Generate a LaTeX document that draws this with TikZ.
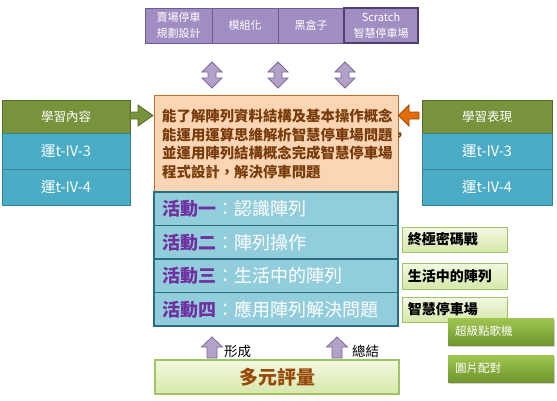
\documentclass[tikz,border=0pt]{standalone}
\usepackage{fontspec}
\setmainfont{Noto Sans CJK TC}
\usetikzlibrary{shadows}
\definecolor{topfill}{RGB}{161,141,193}
\definecolor{topline}{RGB}{110,90,146}
\definecolor{topline2}{RGB}{80,62,112}
\definecolor{dafill}{RGB}{179,162,199}
\definecolor{daline}{RGB}{128,100,162}
\definecolor{olive}{RGB}{119,147,60}
\definecolor{oliveline}{RGB}{84,106,40}
\definecolor{sideblue}{RGB}{75,172,198}
\definecolor{sideblueline}{RGB}{55,130,152}
\definecolor{peach}{RGB}{252,213,181}
\definecolor{peachline}{RGB}{196,110,45}
\definecolor{brown}{RGB}{120,60,10}
\definecolor{actfill}{RGB}{146,205,220}
\definecolor{actline}{RGB}{40,110,130}
\definecolor{actpurple}{RGB}{112,48,160}
\definecolor{orangearrow}{RGB}{228,108,10}
\definecolor{orangeline}{RGB}{152,72,7}
\definecolor{lgtop}{RGB}{242,248,226}
\definecolor{lgbot}{RGB}{214,232,170}
\definecolor{lgline}{RGB}{160,196,100}
\definecolor{dgtop}{RGB}{160,198,80}
\definecolor{dgbot}{RGB}{112,150,46}
\definecolor{evalbrown}{RGB}{152,72,7}
\tikzset{
  wh/.style 2 args={minimum width=#1, minimum height=#2, inner sep=0pt},
  topbox/.style={draw=topline, line width=0.8pt, fill=topfill, text=white, align=center,
    font=\fontsize{11}{15.5}\selectfont},
  sidehead/.style={draw=oliveline, line width=0.8pt, fill=olive, text=white,
    font=\fontsize{12.5}{15}\selectfont},
  sidecell/.style={draw=sideblueline, line width=0.8pt, fill=sideblue, text=white,
    font=\fontsize{14.5}{17}\selectfont},
  goalbox/.style={draw=peachline, line width=1pt, fill=peach},
  actbox/.style={draw=actline, line width=1.4pt, fill=actfill},
  acttext/.style={anchor=west, inner sep=0pt, text=white, font=\fontsize{18}{20}\selectfont},
  gamebox/.style={draw=lgline, line width=0.8pt, top color=lgtop, bottom color=lgbot},
  gametext/.style={anchor=west, inner sep=0pt, font=\bfseries\fontsize{14}{16}\selectfont},
  dgbox/.style={top color=dgtop, bottom color=dgbot, drop shadow={shadow xshift=1pt, shadow yshift=-1.5pt, opacity=0.35}},
  dgtext/.style={anchor=west, inner sep=0pt, text=white, font=\fontsize{11.5}{14}\selectfont},
  evalbox/.style={draw=lgline, line width=1.8pt, top color=lgtop, bottom color=lgbot},
  blockarrow/.style={fill=dafill, draw=daline, line width=0.8pt},
  dblarrow/.pic={\path[blockarrow] (0,-13)--(10,-3)--(4,-3)--(4,3)--(10,3)--(0,13)--(-10,3)--(-4,3)--(-4,-3)--(-10,-3)--cycle;},
  uparrow/.pic={\path[blockarrow] (0,-10.5)--(10.5,-0.5)--(5,-0.5)--(5,10.5)--(-5,10.5)--(-5,-0.5)--(-10.5,-0.5)--cycle;}
}
\begin{document}
\begin{tikzpicture}[x=1pt,y=-1pt]
\useasboundingbox[fill=white] (0,0) rectangle (557,400);

% top boxes
\node[topbox, wh={67pt}{35pt}] (t1) at (178.5,25.5) {賣場停車\\規劃設計};
\node[topbox, wh={66pt}{35pt}] (t2) at (245,25.5) {模組化};
\node[topbox, wh={66pt}{35pt}] (t3) at (311,25.5) {黑盒子};
\node[topbox, draw=topline2, line width=1.2pt, wh={74pt}{35pt}] (t4) at (381,25.5) {Scratch\\智慧停車場};

% double arrows
\pic at (212,75) {dblarrow};
\pic at (278,75) {dblarrow};
\pic at (345,75) {dblarrow};

% goal box
\node[goalbox, wh={244pt}{97pt}] (goal) at (276,143.5) {};
\node[anchor=north west, inner sep=0pt, align=left, text=brown,
  font=\bfseries\fontsize{14.4}{18.5}\selectfont] (goaltext) at (162,109)
  {能了解陣列資料結構及基本操作概念\\能運用運算思維解析智慧停車場問題，\\並運用陣列結構概念完成智慧停車場\\程式設計，解決停車問題};

% activities
\node[actbox, wh={244pt}{33.5pt}] (a1) at (276,208.75) {};
\node[actbox, wh={244pt}{33.5pt}] (a2) at (276,242.25) {};
\node[actbox, wh={244pt}{33.5pt}] (a3) at (276,275.75) {};
\node[actbox, wh={244pt}{33.5pt}] (a4) at (276,309.25) {};
\node[acttext] (a1t) at ([xshift=9pt]a1.west) {\textcolor{actpurple}{\bfseries 活動一}：認識陣列};
\node[acttext] (a2t) at ([xshift=9pt]a2.west) {\textcolor{actpurple}{\bfseries 活動二}：陣列操作};
\node[acttext] (a3t) at ([xshift=9pt]a3.west) {\textcolor{actpurple}{\bfseries 活動三}：生活中的陣列};
\node[acttext] (a4t) at ([xshift=9pt]a4.west) {\textcolor{actpurple}{\bfseries 活動四}：應用陣列解決問題};

% left panel
\node[sidehead, wh={128pt}{33pt}] (lh) at (66,116.5) {學習內容};
\node[sidecell, wh={128pt}{36pt}] (l1) at (66,151) {運t-IV-3};
\node[sidecell, wh={128pt}{36pt}] (l2) at (66,187) {運t-IV-4};
% right panel
\node[sidehead, wh={130pt}{33pt}] (rh) at (487,116.5) {學習表現};
\node[sidecell, wh={130pt}{36pt}] (r1) at (487,151) {運t-IV-3};
\node[sidecell, wh={130pt}{36pt}] (r2) at (487,187) {運t-IV-4};

% side arrows
\path[fill=olive, draw=oliveline, line width=0.8pt]
  (130,112)--(138,112)--(138,105)--(153,115.5)--(138,126)--(138,119)--(130,119)--cycle;
\path[fill=orangearrow, draw=orangeline, line width=0.8pt]
  (419,112)--(409,112)--(409,105)--(398.5,115.5)--(409,126)--(409,119)--(419,119)--cycle;

% game boxes
\node[gamebox, wh={105pt}{25pt}] (g1) at (454.5,239.5) {};
\node[gametext] at ([xshift=6pt]g1.west) {終極密碼戰};
\node[gamebox, wh={105pt}{26pt}] (g2) at (454.5,276) {};
\node[gametext] at ([xshift=6pt]g2.west) {生活中的陣列};
\node[gamebox, wh={105pt}{25pt}] (g3) at (454.5,309.5) {};
\node[gametext] at ([xshift=6pt]g3.west) {智慧停車場};
\node[dgbox, wh={106pt}{27pt}] (d1) at (501,331.5) {};
\node[dgtext] at ([xshift=7pt]d1.west) {超級點歌機};
\node[dgbox, wh={106pt}{27pt}] (d2) at (501,368.5) {};
\node[dgtext] at ([xshift=7pt]d2.west) {圖片配對};

% bottom
\pic at (212,347.5) {uparrow};
\pic at (337,347.5) {uparrow};
\node[anchor=west, inner sep=0pt, font=\fontsize{13.5}{15}\selectfont] (form) at (224,351) {形成};
\node[anchor=west, inner sep=0pt, font=\fontsize{13.5}{15}\selectfont] (summ) at (352,351) {總結};
\node[evalbox, wh={244pt}{34pt}, text=evalbrown, font=\bfseries\fontsize{19}{21}\selectfont] (eval) at (277,377) {多元評量};
\end{tikzpicture}
\end{document}
